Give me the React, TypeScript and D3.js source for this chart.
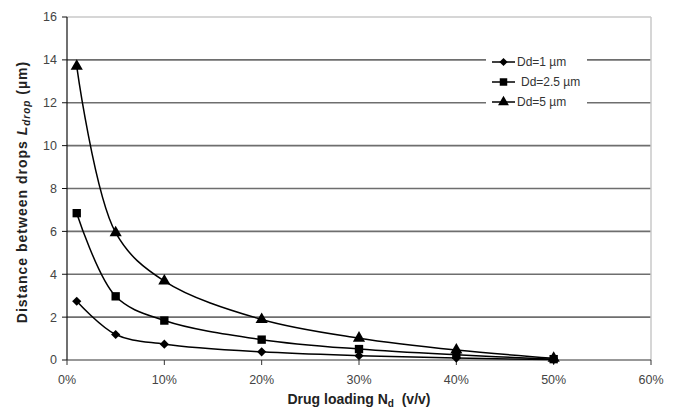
import React from 'react';
import * as d3 from 'd3';

// drug loading (fraction v/v)
const loading = [0.01, 0.05, 0.1, 0.2, 0.3, 0.4, 0.5];
// distance between drops (µm)
const dd1 = [2.74, 1.19, 0.74, 0.38, 0.2, 0.09, 0.02];
const dd25 = [6.85, 2.97, 1.84, 0.95, 0.51, 0.24, 0.04];
const dd5 = [13.7, 5.94, 3.68, 1.89, 1.02, 0.47, 0.08];

const seriesNames = ['Dd=1 µm', 'Dd=2.5 µm', 'Dd=5 µm'];
const seriesValues = [dd1, dd25, dd5];
// diamond = square turned 45°
const markers = [d3.symbolSquare, d3.symbolSquare, d3.symbolTriangle];
const markerRotate = [45, 0, 0];
const markerSizes = [42, 70, 64];

const xTicks = [0, 0.1, 0.2, 0.3, 0.4, 0.5, 0.6];
const yTicks = [0, 2, 4, 6, 8, 10, 12, 14, 16];

const W = 675;
const H = 409;
const FONT = "'Liberation Sans', Arial, sans-serif";

export default function App() {
  const x = d3.scaleLinear().domain([0, 0.6]).range([67, 651]);
  const y = d3.scaleLinear().domain([0, 16]).range([360, 17]);
  const line = d3
    .line<number>()
    .x((_, i) => x(loading[i]))
    .y((d) => y(d))
    .curve(d3.curveCatmullRom.alpha(0.5));

  const legendRows = [62, 82, 102];

  return (
    <svg
      width={W}
      height={H}
      style={{ position: 'absolute', left: 0, top: 0, background: '#fff' }}
      fontFamily={FONT}
    >
      {/* grid */}
      {yTicks.filter((t) => t > 0).map((t) => (
        <line
          key={t}
          x1={x(0)}
          x2={x(0.6)}
          y1={y(t)}
          y2={y(t)}
          stroke={t === 16 ? '#c8c8c8' : '#6e6e6e'}
          strokeWidth={t === 16 ? 1.5 : 1.6}
        />
      ))}
      <line x1={x(0.6)} x2={x(0.6)} y1={y(16)} y2={y(0)} stroke="#c8c8c8" strokeWidth={1.5} />

      {/* axes */}
      <line x1={x(0)} x2={x(0)} y1={y(16)} y2={y(0)} stroke="#111" strokeWidth={1.2} />
      <line x1={x(0)} x2={x(0.6)} y1={y(0)} y2={y(0)} stroke="#333" strokeWidth={1.2} />
      {yTicks.map((t) => (
        <g key={t}>
          <line x1={x(0) - 5} x2={x(0)} y1={y(t)} y2={y(t)} stroke="#111" />
          <text x={57} y={y(t)} dy="0.35em" textAnchor="end" fontSize={12.5} fill="#444">
            {t}
          </text>
        </g>
      ))}
      {xTicks.map((t) => (
        <g key={t}>
          <line x1={x(t)} x2={x(t)} y1={y(0)} y2={y(0) + 5} stroke="#333" />
          <text x={x(t)} y={383.5} textAnchor="middle" fontSize={12.5} fill="#444">
            {d3.format('.0%')(t)}
          </text>
        </g>
      ))}

      {/* series */}
      {seriesValues.map((vals, si) => (
        <g key={si}>
          <path d={line(vals) || ''} fill="none" stroke="#000" strokeWidth={1.5} />
          {vals.map((v, i) => (
            <path
              key={i}
              transform={`translate(${x(loading[i])},${y(v)}) rotate(${markerRotate[si]})`}
              d={d3.symbol().type(markers[si]).size(markerSizes[si])() || ''}
              fill="#000"
            />
          ))}
        </g>
      ))}

      {/* legend */}
      <rect x={486} y={52} width={101} height={60} fill="#fff" />
      {seriesNames.map((name, i) => (
        <g key={name}>
          <line x1={492} x2={515} y1={legendRows[i]} y2={legendRows[i]} stroke="#000" strokeWidth={1.5} />
          <path
            transform={`translate(503.5,${legendRows[i]}) rotate(${markerRotate[i]})`}
            d={d3.symbol().type(markers[i]).size(markerSizes[i] * 0.8)() || ''}
            fill="#000"
          />
          <text x={i === 1 ? 521 : 517} y={legendRows[i]} dy="0.35em" fontSize={12} fill="#333">
            {name}
          </text>
        </g>
      ))}

      {/* axis titles */}
      <text x={359} y={404} textAnchor="middle" fontSize={14} fontWeight="bold" fill="#222">
        Drug loading N<tspan fontSize={10} dy={3}>d</tspan>
        <tspan dy={-3}>{'\u00a0 (v/v)'}</tspan>
      </text>
      <text
        transform={`translate(27,192) rotate(-90)`}
        textAnchor="middle"
        fontSize={14}
        fontWeight="bold"
        letterSpacing={1}
        fill="#222"
      >
        Distance between drops <tspan fontStyle="italic">L</tspan>
        <tspan fontStyle="italic" fontSize={10} dy={3}>drop</tspan>
        <tspan dy={-3}> (µm)</tspan>
      </text>
    </svg>
  );
}
